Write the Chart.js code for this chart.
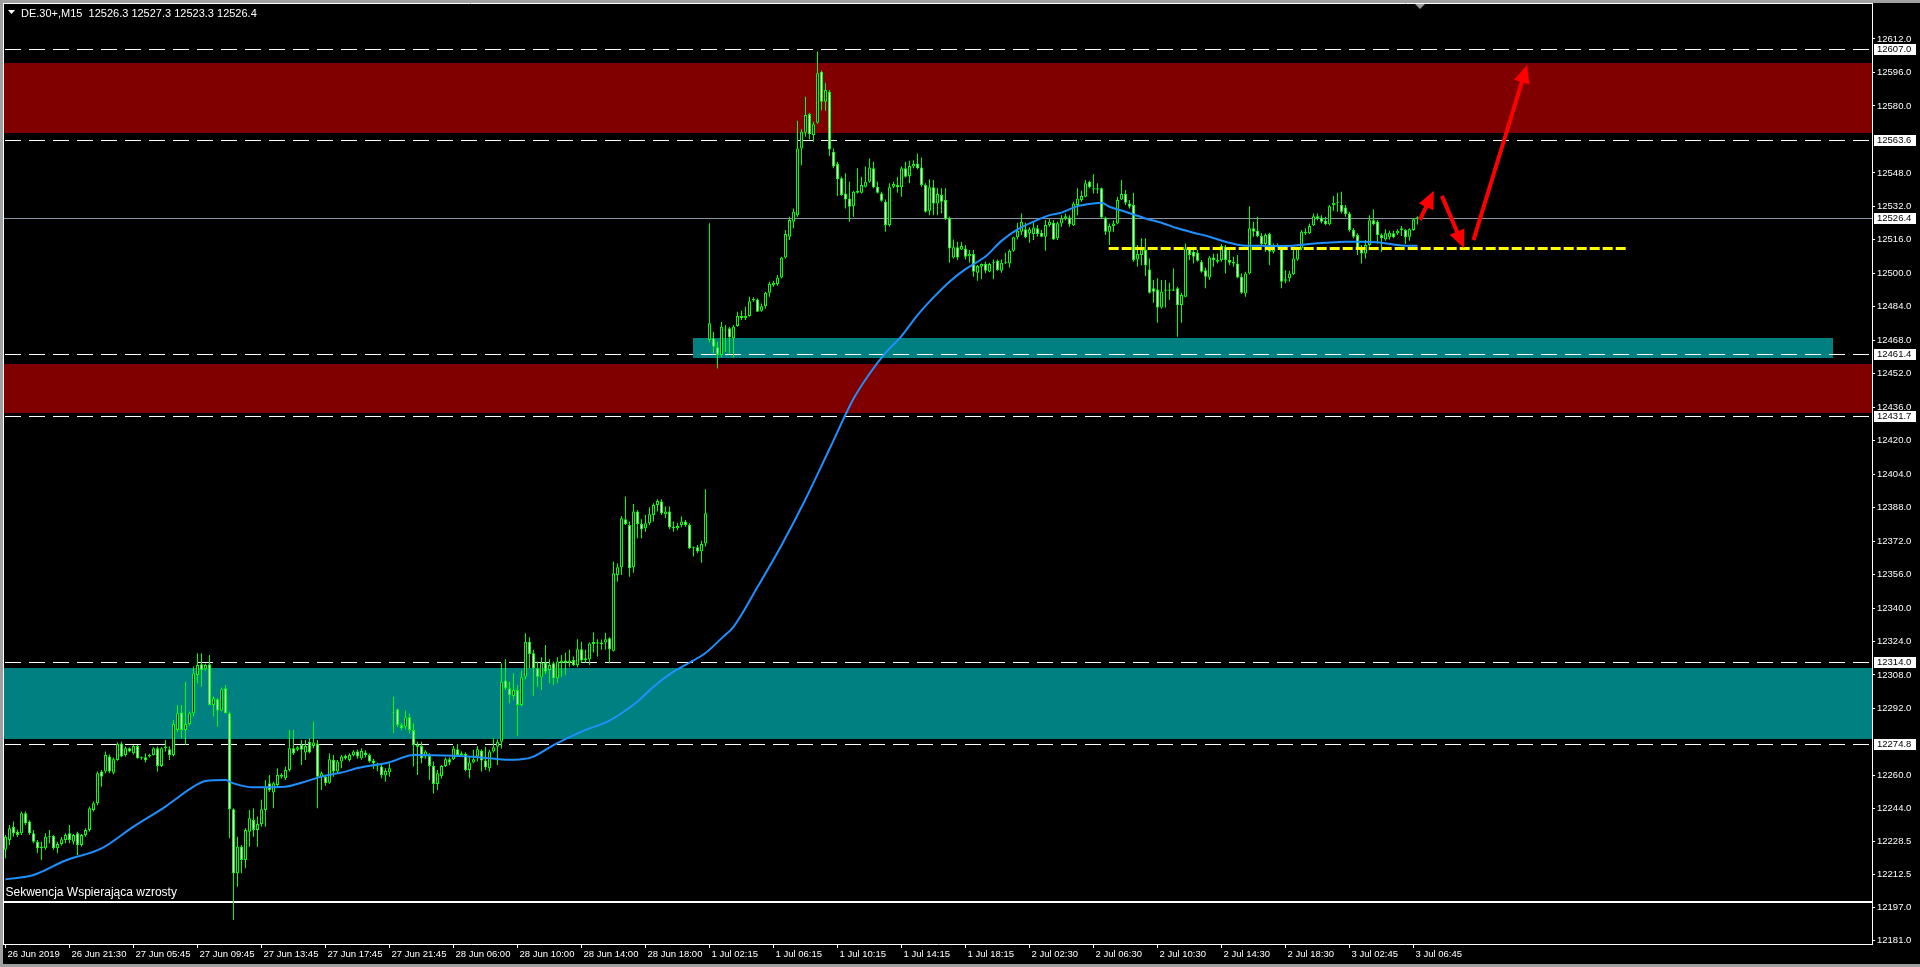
<!DOCTYPE html>
<html>
<head>
<meta charset="utf-8">
<title>DE.30+ M15</title>
<script src="https://cdn.jsdelivr.net/npm/chart.js@4.4.1/dist/chart.umd.min.js"></script>
<style>
html,body{margin:0;padding:0;background:#000;overflow:hidden}
#wrap{width:1920px;height:967px;position:relative}
canvas{display:block}
</style>
</head>
<body>
<div id="wrap"><canvas id="c" width="1920" height="967"></canvas></div>
<script>
// ---------------- data ----------------
const symbolTitle = "DE.30+,M15";
const lastQuote = [12526.3, 12527.3, 12523.3, 12526.4];

const open = [
12224.4,12229.1,12235.5,12233.1,12232.3,12241.9,12237.9,12232.3,12228.3,12225.2,
12225.2,12230.7,12231.0,12225.2,12227.2,12229.1,12232.3,12228.3,12232.3,12226.7,
12231.5,12233.9,12243.5,12246.7,12261.8,12261.8,12269.0,12261.3,12267.4,12275.3,
12269.8,12273.0,12270.6,12274.1,12268.2,12268.7,12269.0,12269.8,12273.0,12264.5,
12273.0,12272.5,12269.8,12281.7,12290.0,12281.7,12284.6,12289.7,12308.0,12313.1,
12310.7,12313.1,12293.7,12296.4,12291.0,12301.6,12289.7,12243.8,12213.2,12225.9,
12219.6,12233.1,12238.7,12233.9,12236.8,12243.5,12256.2,12251.8,12255.4,12260.2,
12258.6,12262.6,12273.0,12272.2,12274.5,12270.9,12276.1,12274.1,12275.3,12259.4,
12259.4,12256.5,12267.4,12261.8,12266.6,12269.3,12267.4,12269.8,12271.4,12268.2,
12270.9,12269.8,12267.1,12264.5,12264.2,12259.9,12261.5,12289.7,12291.6,12284.1,
12283.3,12287.8,12281.7,12274.5,12274.1,12269.0,12269.3,12264.5,12255.9,12259.7,
12264.5,12267.7,12267.7,12272.5,12269.8,12270.2,12262.6,12266.1,12269.0,12271.8,
12267.1,12263.4,12271.4,12273.7,12276.1,12305.3,12301.6,12298.0,12300.8,12293.7,
12307.2,12323.9,12318.4,12311.2,12306.9,12313.9,12310.4,12313.6,12306.4,12313.9,
12314.9,12313.9,12315.2,12312.8,12320.3,12315.2,12315.5,12323.8,12323.1,12323.5,
12323.5,12325.5,12319.6,12355.8,12359.5,12382.4,12379.7,12359.5,12386.1,12380.2,
12378.1,12380.5,12384.5,12389.3,12390.9,12384.8,12386.1,12378.9,12378.1,12379.7,
12381.3,12379.7,12368.6,12369.0,12367.0,12370.9,12468.1,12468.9,12464.6,12460.9,
12472.9,12473.7,12468.9,12474.8,12479.6,12478.5,12479.6,12487.2,12487.5,12482.1,
12484.3,12490.7,12494.4,12494.9,12498.0,12507.6,12517.5,12524.7,12527.8,12559.7,
12567.2,12576.1,12566.1,12572.0,12596.4,12582.0,12586.8,12558.1,12552.2,12545.4,
12538.2,12535.8,12532.1,12538.5,12538.5,12541.4,12543.8,12550.2,12541.4,12538.2,
12534.2,12523.1,12541.4,12542.2,12541.1,12550.2,12546.5,12551.0,12552.5,12550.6,
12542.2,12529.9,12541.1,12533.4,12537.4,12535.0,12526.3,12507.6,12512.4,12511.4,
12511.9,12508.2,12509.2,12500.3,12503.1,12504.4,12500.8,12505.1,12506.0,12501.2,
12505.1,12504.7,12510.8,12517.2,12519.9,12521.0,12519.1,12518.8,12521.5,12519.4,
12517.5,12523.1,12524.2,12516.7,12523.8,12526.2,12526.7,12523.0,12532.6,12535.0,
12536.6,12543.8,12540.6,12540.1,12540.6,12526.7,12519.9,12522.6,12523.8,12535.3,
12537.9,12533.4,12532.6,12506.6,12508.7,12511.1,12501.8,12492.8,12492.3,12483.7,
12491.7,12492.3,12491.7,12492.8,12484.8,12488.8,12511.9,12510.3,12509.8,12505.5,
12501.5,12498.0,12507.6,12506.3,12506.3,12512.7,12506.3,12505.5,12504.7,12498.4,
12490.4,12499.9,12521.5,12520.3,12517.8,12514.0,12518.8,12510.3,12512.7,12512.4,
12496.4,12497.6,12499.6,12506.6,12511.9,12519.9,12519.1,12523.0,12527.3,12526.7,
12525.1,12523.5,12532.6,12534.2,12532.6,12531.5,12528.6,12520.7,12518.3,12511.9,
12509.5,12513.5,12525.4,12524.6,12518.3,12516.2,12517.2,12519.1,12519.1,12520.7,
12520.7,12517.5,12520.7,12526.3
];
const high = [
12231.5,12236.3,12237.9,12234.0,12242.7,12242.7,12238.5,12233.9,12229.1,12228.3,
12232.3,12233.9,12231.5,12228.3,12230.5,12232.3,12236.3,12232.0,12233.1,12232.0,
12234.7,12245.1,12247.5,12261.8,12262.6,12271.4,12270.0,12268.5,12275.7,12276.1,
12273.8,12273.5,12274.5,12274.5,12269.0,12270.6,12270.3,12273.5,12273.8,12273.5,
12276.9,12273.8,12286.5,12293.7,12293.7,12304.8,12290.5,12312.0,12318.4,12318.4,
12313.5,12317.6,12297.7,12296.9,12302.0,12303.2,12290.5,12244.3,12230.7,12226.7,
12234.7,12243.5,12244.3,12240.3,12248.3,12257.8,12260.2,12257.0,12263.4,12261.0,
12264.2,12281.7,12281.7,12274.0,12276.9,12276.9,12277.7,12285.7,12276.9,12261.8,
12260.0,12270.6,12269.8,12267.4,12269.8,12270.0,12270.6,12272.0,12272.2,12273.0,
12272.0,12270.5,12268.0,12266.0,12265.0,12263.4,12265.8,12297.6,12292.0,12285.0,
12291.0,12289.5,12284.9,12276.1,12276.1,12272.0,12270.6,12266.6,12262.6,12265.0,
12268.5,12268.5,12274.1,12275.0,12271.5,12271.0,12269.0,12272.2,12274.1,12272.5,
12273.7,12272.2,12277.7,12277.3,12313.6,12315.5,12304.8,12308.8,12303.2,12310.1,
12327.9,12326.0,12320.0,12314.4,12316.5,12322.3,12315.5,12314.4,12316.5,12317.6,
12318.7,12320.0,12316.8,12325.1,12323.9,12320.0,12323.5,12328.4,12325.1,12325.0,
12328.2,12326.0,12362.2,12361.4,12384.0,12393.3,12381.3,12389.7,12386.9,12382.4,
12384.5,12388.2,12390.1,12392.0,12392.0,12388.5,12388.5,12381.3,12380.8,12383.7,
12382.1,12380.5,12369.4,12370.1,12372.2,12396.8,12523.9,12472.1,12467.3,12476.9,
12475.3,12474.5,12475.3,12481.6,12482.1,12484.0,12488.8,12488.5,12488.0,12485.6,
12491.2,12496.0,12496.5,12499.2,12507.9,12520.7,12527.0,12531.0,12572.9,12568.8,
12584.4,12576.8,12572.5,12606.0,12597.0,12590.8,12587.6,12559.7,12553.3,12546.2,
12547.8,12543.8,12539.5,12550.2,12546.2,12551.0,12554.9,12553.3,12543.8,12539.0,
12535.3,12543.0,12543.8,12546.2,12551.0,12553.3,12553.8,12554.1,12557.3,12555.4,
12543.0,12544.9,12544.6,12540.6,12540.6,12540.6,12527.0,12516.2,12515.1,12515.1,
12513.5,12511.1,12511.1,12504.0,12504.7,12505.5,12505.1,12506.6,12506.6,12506.6,
12509.8,12511.4,12517.5,12524.2,12528.6,12524.2,12522.0,12524.7,12523.1,12520.7,
12525.5,12525.8,12525.5,12524.7,12527.8,12528.6,12527.8,12534.2,12540.6,12539.5,
12544.6,12544.2,12547.4,12543.0,12541.0,12527.0,12523.8,12525.4,12536.6,12544.6,
12539.8,12535.0,12538.5,12513.5,12516.7,12516.7,12507.1,12496.8,12497.6,12496.8,
12496.8,12495.5,12502.3,12493.6,12490.7,12514.3,12512.7,12512.7,12511.1,12506.3,
12502.8,12508.2,12509.5,12509.5,12514.0,12513.5,12511.1,12507.9,12508.7,12499.9,
12500.7,12532.1,12524.6,12527.0,12519.1,12519.1,12519.4,12514.3,12514.3,12512.7,
12501.5,12501.2,12511.9,12512.7,12520.7,12521.5,12523.8,12528.6,12528.6,12527.8,
12527.0,12532.6,12536.9,12538.5,12539.0,12532.6,12529.4,12521.5,12519.1,12513.5,
12515.9,12527.8,12530.5,12525.4,12519.1,12521.0,12520.3,12520.3,12521.0,12522.6,
12521.0,12521.5,12526.2,12527.3
];
const low = [
12220.4,12226.7,12230.7,12230.5,12231.5,12236.3,12231.5,12227.5,12222.8,12219.6,
12224.4,12227.5,12224.4,12222.8,12226.5,12227.5,12227.5,12227.0,12222.0,12226.0,
12230.7,12233.1,12242.7,12245.9,12254.6,12261.0,12261.0,12260.5,12267.0,12268.7,
12269.0,12271.0,12270.0,12268.0,12267.5,12266.1,12268.5,12269.5,12261.8,12264.0,
12271.4,12267.4,12269.0,12280.9,12277.7,12274.5,12284.0,12288.1,12304.0,12302.4,
12310.0,12293.7,12288.1,12283.3,12290.5,12289.7,12229.9,12190.9,12206.8,12213.2,
12215.6,12225.9,12230.7,12225.9,12235.5,12235.5,12252.2,12244.3,12254.6,12258.5,
12257.8,12261.8,12269.8,12271.5,12265.0,12267.4,12270.6,12273.0,12244.3,12253.0,
12255.0,12256.0,12259.4,12261.0,12263.4,12267.5,12266.6,12269.0,12268.0,12267.5,
12268.5,12266.0,12263.0,12262.0,12258.6,12257.0,12259.4,12280.1,12283.0,12281.5,
12282.0,12280.0,12264.2,12260.2,12265.8,12268.0,12257.8,12251.4,12253.0,12258.5,
12264.0,12265.0,12267.4,12269.0,12269.0,12262.0,12258.6,12265.8,12266.6,12261.8,
12262.6,12261.8,12270.9,12265.0,12272.9,12300.8,12294.5,12296.1,12278.8,12292.9,
12305.9,12311.2,12298.0,12302.4,12300.8,12308.5,12304.0,12303.2,12304.0,12307.2,
12308.0,12311.7,12312.3,12311.7,12313.9,12313.9,12312.8,12318.7,12316.8,12320.0,
12320.0,12313.6,12319.2,12352.6,12355.8,12379.7,12355.0,12356.9,12373.3,12373.3,
12376.5,12379.7,12381.3,12386.1,12384.5,12382.9,12377.6,12376.5,12377.3,12378.6,
12378.9,12368.1,12364.6,12366.2,12361.7,12369.4,12467.0,12461.7,12454.5,12460.1,
12462.5,12461.7,12459.8,12474.5,12477.7,12477.7,12479.2,12486.4,12481.6,12481.6,
12483.2,12488.8,12493.6,12494.0,12497.5,12507.1,12515.9,12521.5,12527.0,12551.7,
12565.3,12564.0,12562.9,12571.5,12578.0,12577.7,12556.1,12550.2,12536.9,12537.0,
12531.0,12524.7,12527.0,12538.2,12538.2,12541.0,12543.3,12540.6,12538.2,12534.2,
12519.9,12522.3,12540.6,12538.5,12536.6,12545.8,12543.0,12550.2,12549.7,12541.4,
12529.0,12527.8,12527.8,12527.8,12528.6,12525.5,12505.1,12507.1,12506.3,12511.1,
12506.6,12505.1,12498.4,12496.5,12497.1,12500.0,12500.5,12497.1,12501.2,12500.3,
12504.4,12502.8,12510.3,12516.2,12518.3,12516.7,12514.6,12515.9,12517.5,12517.2,
12510.8,12522.3,12515.9,12515.9,12522.2,12525.4,12522.2,12522.6,12527.8,12534.2,
12536.3,12540.6,12538.2,12538.2,12526.2,12518.3,12513.5,12519.9,12523.5,12535.0,
12532.6,12531.0,12505.5,12503.1,12503.9,12498.6,12490.4,12485.9,12476.4,12483.2,
12483.7,12487.2,12491.5,12469.7,12476.4,12488.5,12506.3,12504.7,12505.5,12500.3,
12492.8,12496.8,12503.1,12504.7,12505.5,12499.9,12503.9,12503.1,12497.6,12490.1,
12488.8,12499.6,12517.5,12517.2,12513.5,12510.3,12503.9,12509.5,12512.3,12492.8,
12495.2,12496.0,12499.2,12506.0,12511.1,12518.3,12518.8,12522.6,12525.4,12523.8,
12523.0,12523.0,12529.9,12529.4,12528.6,12527.0,12519.9,12516.7,12508.7,12504.7,
12507.1,12512.7,12523.0,12514.3,12510.3,12515.6,12516.2,12516.7,12518.3,12517.8,
12514.0,12515.6,12520.3,12523.3
];
const close = [
12230.7,12234.7,12232.3,12231.5,12241.9,12237.1,12232.3,12228.3,12225.2,12225.9,
12230.7,12231.0,12225.2,12227.2,12229.5,12231.5,12229.1,12231.5,12226.7,12231.5,
12233.9,12244.3,12246.7,12261.0,12259.4,12269.8,12261.8,12267.7,12275.0,12269.0,
12273.0,12271.4,12274.1,12268.2,12268.7,12267.4,12269.8,12273.0,12264.5,12273.0,
12273.8,12269.8,12284.6,12289.7,12281.7,12284.6,12289.7,12308.8,12312.8,12310.4,
12312.8,12293.7,12296.9,12291.0,12301.2,12289.7,12243.8,12213.2,12225.9,12219.6,
12233.9,12239.5,12233.9,12236.8,12243.8,12254.6,12253.0,12256.2,12260.2,12259.4,
12262.6,12273.0,12270.6,12273.4,12272.2,12274.1,12270.9,12275.7,12259.4,12261.0,
12256.2,12267.7,12261.8,12266.6,12269.0,12268.2,12269.8,12271.4,12269.0,12271.7,
12269.8,12266.6,12265.8,12264.2,12260.2,12262.1,12263.4,12290.1,12284.1,12282.5,
12287.8,12281.7,12274.5,12273.7,12268.2,12271.4,12264.5,12255.9,12261.0,12264.5,
12267.7,12266.1,12272.9,12269.8,12270.6,12262.6,12266.1,12267.7,12272.5,12267.1,
12263.9,12271.4,12273.4,12276.1,12304.8,12301.6,12298.4,12300.8,12293.7,12306.9,
12323.9,12318.0,12311.2,12307.2,12313.9,12309.6,12312.8,12306.4,12314.4,12314.9,
12313.9,12314.9,12312.8,12320.3,12314.9,12316.0,12323.1,12322.8,12323.6,12322.8,
12325.1,12320.3,12356.6,12359.5,12382.9,12380.2,12359.0,12386.1,12380.2,12377.6,
12380.5,12384.8,12389.3,12391.2,12385.3,12386.1,12378.6,12378.1,12379.2,12381.3,
12379.7,12368.6,12369.0,12367.0,12370.6,12385.3,12476.1,12464.9,12460.9,12474.5,
12472.6,12469.4,12474.5,12479.6,12478.5,12479.6,12486.7,12487.5,12481.6,12484.3,
12490.7,12494.9,12495.5,12498.0,12507.6,12518.8,12525.5,12529.4,12559.7,12567.7,
12575.7,12566.6,12571.3,12595.6,12582.0,12587.6,12559.2,12551.0,12544.9,12537.4,
12535.3,12531.8,12539.0,12539.5,12542.2,12543.8,12550.6,12541.1,12538.5,12534.7,
12523.1,12541.1,12542.7,12541.1,12550.2,12546.2,12551.3,12552.2,12550.2,12542.2,
12529.4,12541.1,12533.4,12537.9,12534.2,12525.8,12511.9,12512.4,12507.6,12513.0,
12507.9,12509.2,12500.8,12503.5,12504.4,12501.2,12504.4,12505.5,12501.6,12505.1,
12505.5,12510.8,12517.2,12520.4,12524.7,12517.2,12521.0,12521.9,12518.8,12517.5,
12523.1,12524.7,12516.2,12523.9,12526.2,12527.3,12523.5,12533.4,12535.8,12536.9,
12543.0,12541.1,12540.1,12540.6,12526.7,12519.9,12522.6,12523.8,12535.0,12537.9,
12533.7,12531.8,12506.3,12509.2,12511.4,12503.9,12490.7,12491.2,12483.7,12491.2,
12492.3,12491.7,12492.3,12484.8,12489.6,12511.9,12508.7,12507.9,12506.0,12500.7,
12498.4,12507.6,12506.3,12505.5,12513.0,12506.3,12505.0,12504.7,12498.0,12490.7,
12499.9,12521.5,12519.9,12517.8,12514.0,12518.3,12510.3,12512.7,12513.5,12496.0,
12497.1,12499.9,12507.1,12511.9,12519.9,12519.1,12522.6,12527.3,12526.2,12524.6,
12523.5,12532.1,12533.7,12533.7,12529.4,12528.3,12520.7,12517.5,12511.1,12509.5,
12513.5,12525.4,12523.5,12518.3,12516.7,12519.1,12519.4,12517.2,12520.3,12521.5,
12517.2,12521.0,12525.8,12526.4
];

// moving average (blue), read at selected bars
const maBars = [0,7,15,24,32,40,47,50,55,57,62,70,74,79,85,88,96,102,112,119,
126,129,132,137,144,151,154,158,162,167,171,175,179,182,188,194,200,206,212,216,
220,224,228,232,236,240,245,249,253,257,261,264,268,272,274,276,280,285,289,293,
297,301,305,310,314,318,322,326,330,335,339,343,347,350,353];
const maValues = [12210.3,12212.4,12219.3,12225.1,12235.5,12245.1,12254.6,12257.3,12257.8,12256.2,
12254.3,12254.6,12256.5,12259.4,12261.8,12263.5,12266.3,12269.8,12269.4,12268.6,
12267.5,12267.7,12269.0,12274.5,12280.9,12286.2,12289.7,12295.3,12302.4,12309.6,
12313.9,12318.5,12325.5,12331.0,12350.0,12370.0,12392.0,12416.0,12440.0,12452.0,
12462.0,12470.0,12480.0,12488.5,12496.0,12502.0,12508.0,12515.5,12521.0,12524.7,
12527.8,12529.0,12532.1,12533.4,12533.7,12531.8,12529.4,12526.2,12524.2,12521.5,
12519.4,12517.5,12515.1,12513.2,12513.2,12513.0,12513.2,12514.0,12514.6,12515.1,
12515.1,12514.8,12513.8,12513.2,12513.2];

// time axis labels, one every 16 bars
const timeLabels = ["26 Jun 2019","26 Jun 21:30","27 Jun 05:45","27 Jun 09:45","27 Jun 13:45",
"27 Jun 17:45","27 Jun 21:45","28 Jun 06:00","28 Jun 10:00","28 Jun 14:00","28 Jun 18:00",
"1 Jul 02:15","1 Jul 06:15","1 Jul 10:15","1 Jul 14:15","1 Jul 18:15","2 Jul 02:30",
"2 Jul 06:30","2 Jul 10:30","2 Jul 14:30","2 Jul 18:30","3 Jul 02:45","3 Jul 06:45"];
const barsPerLabel = 16;

// price axis labels
const priceTicks = [12612.0,12596.0,12580.0,12548.0,12532.0,12516.0,12500.0,12484.0,12468.0,
12452.0,12436.0,12420.0,12404.0,12388.0,12372.0,12356.0,12340.0,12324.0,12308.0,12292.0,
12260.0,12244.0,12228.5,12212.5,12197.0,12181.0];

// annotation levels
const levelLines = [12607.0, 12563.6, 12461.4, 12431.7, 12314.0, 12274.8];
const bidPrice = 12526.4;
const redZones = [[12567.2, 12600.5], [12433.2, 12456.6]];
const tealZones = [[12277.4, 12311.5]];
const supportBox = [171.9, 456.9, 12459.3, 12468.9];   // fromBar, toBar, low, high
const trendLevel = [275.8, 405.1, 12511.9];             // fromBar, toBar, price
const baseLevel = 12199.7;
const baseLabel = "Sekwencja Wspierająca wzrosty";
const arrowsData = [
  [353.6, 12525.5, 357.1, 12539.5],
  [359.1, 12537.0, 364.65, 12512.0],
  [367.0, 12515.9, 380.4, 12599.6]
];
const priceRange = [12179.40, 12628.73];
const barRange = [-0.375, 466.625];

// ---------------- chart ----------------
const FONT = '"Liberation Sans", Arial, sans-serif';
Chart.defaults.font.family = FONT;
Chart.defaults.color = '#ffffff';

const idx = open.map((_, i) => i);
const wickData = idx.map(i => ({x: i, y: [Math.min(low[i], open[i], close[i]), Math.max(high[i], open[i], close[i])]}));
const bodyData = idx.map(i => ({x: i, y: [Math.min(open[i], close[i]), Math.max(open[i], close[i])]}));
const bodyFill = idx.map(i => close[i] >= open[i] ? '#000000' : '#ffffff');
const maData = maBars.map((b, k) => ({x: b, y: maValues[k]}));

function drawArrow(ctx, x1, y1, x2, y2) {
  const ang = Math.atan2(y2 - y1, x2 - x1), L = 18, W = 8;
  const bx = x2 - L * Math.cos(ang), by = y2 - L * Math.sin(ang);
  ctx.beginPath(); ctx.moveTo(x1, y1); ctx.lineTo(bx + Math.cos(ang) * 2, by + Math.sin(ang) * 2); ctx.stroke();
  ctx.beginPath();
  ctx.moveTo(x2, y2);
  ctx.lineTo(bx + W * Math.sin(ang), by - W * Math.cos(ang));
  ctx.lineTo(bx - W * Math.sin(ang), by + W * Math.cos(ang));
  ctx.closePath(); ctx.fill();
}

const mt4Plugin = {
  id: 'mt4',
  beforeDraw(chart) {
    const ctx = chart.ctx;
    ctx.save();
    ctx.fillStyle = '#000';
    ctx.fillRect(0, 0, chart.width, chart.height);
    ctx.restore();
  },
  beforeDatasetsDraw(chart) {
    const {ctx, chartArea: a, scales: {x: xs, y: ys}} = chart;
    ctx.save();
    ctx.beginPath(); ctx.rect(a.left, a.top, a.right - a.left, a.bottom - a.top); ctx.clip();
    const band = (p1, p2, x1, x2, col) => {
      const yTop = Math.round(ys.getPixelForValue(p2)), yBot = Math.round(ys.getPixelForValue(p1));
      ctx.fillStyle = col;
      ctx.fillRect(Math.round(x1), yTop, Math.round(x2) - Math.round(x1), yBot - yTop);
    };
    redZones.forEach(z => band(z[0], z[1], a.left, a.right, '#800000'));
    tealZones.forEach(z => band(z[0], z[1], a.left, a.right, '#008080'));
    band(supportBox[2], supportBox[3], xs.getPixelForValue(supportBox[0]), xs.getPixelForValue(supportBox[1]), '#008080');
    // dashed white levels
    ctx.strokeStyle = '#ffffff'; ctx.lineWidth = 1; ctx.setLineDash([16, 8]);
    levelLines.forEach(p => {
      const y = Math.round(ys.getPixelForValue(p)) + 0.5;
      ctx.beginPath(); ctx.moveTo(a.left + 1, y); ctx.lineTo(a.right, y); ctx.stroke();
    });
    ctx.setLineDash([]);
    // bid line
    ctx.strokeStyle = '#8593a3';
    let yb = Math.round(ys.getPixelForValue(bidPrice)) + 0.5;
    ctx.beginPath(); ctx.moveTo(a.left, yb); ctx.lineTo(a.right, yb); ctx.stroke();
    // base line (solid white)
    ctx.strokeStyle = '#ffffff'; ctx.lineWidth = 2;
    const y0 = Math.round(ys.getPixelForValue(baseLevel));
    ctx.beginPath(); ctx.moveTo(a.left, y0); ctx.lineTo(a.right, y0); ctx.stroke();
    ctx.restore();
  },
  afterDatasetsDraw(chart) {
    const {ctx, chartArea: a, scales: {x: xs, y: ys}} = chart;
    ctx.save();
    ctx.beginPath(); ctx.rect(a.left, a.top, a.right - a.left, a.bottom - a.top); ctx.clip();
    // yellow dashed trend level
    ctx.strokeStyle = '#ffff00'; ctx.lineWidth = 3; ctx.setLineDash([10, 3]);
    const yy = ys.getPixelForValue(trendLevel[2]);
    ctx.beginPath(); ctx.moveTo(xs.getPixelForValue(trendLevel[0]), yy); ctx.lineTo(xs.getPixelForValue(trendLevel[1]), yy); ctx.stroke();
    ctx.setLineDash([]);
    // red arrows
    ctx.strokeStyle = '#ff0000'; ctx.fillStyle = '#ff0000'; ctx.lineWidth = 4; ctx.lineCap = 'butt';
    arrowsData.forEach(r => drawArrow(ctx, xs.getPixelForValue(r[0]), ys.getPixelForValue(r[1]), xs.getPixelForValue(r[2]), ys.getPixelForValue(r[3])));
    // base label
    ctx.fillStyle = '#ffffff';
    ctx.font = '12px ' + FONT;
    ctx.textBaseline = 'alphabetic'; ctx.textAlign = 'left';
    ctx.fillText(baseLabel, xs.getPixelForValue(barRange[0]) + 1.5, ys.getPixelForValue(baseLevel) - 6);
    ctx.restore();
  },
  afterDraw(chart) {
    const {ctx, chartArea: a, scales: {y: ys}} = chart;
    ctx.save();
    // window frame
    ctx.fillStyle = '#a0a0a0';
    ctx.fillRect(0, 0, chart.width, 3);
    ctx.fillRect(0, 0, 3, chart.height);
    ctx.fillRect(0, chart.height - 3, chart.width, 3);
    // plot frame (top/left)
    ctx.strokeStyle = '#ffffff'; ctx.lineWidth = 1;
    ctx.beginPath(); ctx.moveTo(3, 3.5); ctx.lineTo(a.right + 1, 3.5); ctx.stroke();
    ctx.beginPath(); ctx.moveTo(3.5, 3); ctx.lineTo(3.5, a.bottom + 1); ctx.stroke();
    // shift marker
    ctx.fillStyle = '#9a9a9a';
    ctx.beginPath(); ctx.moveTo(1415, 4); ctx.lineTo(1425, 4); ctx.lineTo(1420, 9); ctx.closePath(); ctx.fill();
    // header
    ctx.fillStyle = '#ffffff';
    ctx.beginPath(); ctx.moveTo(8, 10); ctx.lineTo(15, 10); ctx.lineTo(11.5, 14); ctx.closePath(); ctx.fill();
    ctx.font = '11px ' + FONT; ctx.textAlign = 'left'; ctx.textBaseline = 'alphabetic';
    ctx.fillText(symbolTitle + '  ' + lastQuote.map(v => v.toFixed(1)).join(' '), 21, 16.5);
    // price markers on the axis
    ctx.font = '9.5px ' + FONT; ctx.textBaseline = 'middle';
    levelLines.concat([bidPrice]).forEach(p => {
      const y = Math.round(ys.getPixelForValue(p));
      ctx.fillStyle = '#ffffff'; ctx.fillRect(a.right + 2, y - 5, 42, 11);
      ctx.fillStyle = '#000000'; ctx.fillText(p.toFixed(1), a.right + 5, y + 0.5);
    });
    ctx.restore();
  }
};

new Chart(document.getElementById('c'), {
  type: 'bar',
  data: {
    datasets: [
      {type: 'line', label: 'MA', data: maData, borderColor: '#1e90ff', borderWidth: 2,
       pointRadius: 0, fill: false, cubicInterpolationMode: 'monotone', order: 0},
      {type: 'bar', label: 'body', data: bodyData, backgroundColor: bodyFill, borderColor: '#00ff00',
       borderWidth: 1, borderSkipped: false, barThickness: 3, maxBarThickness: 3, minBarLength: 1,
       grouped: false, inflateAmount: 0, order: 1},
      {type: 'bar', label: 'wick', data: wickData, backgroundColor: '#00ff00', borderWidth: 0,
       barThickness: 1, maxBarThickness: 1, grouped: false, inflateAmount: 0, order: 2}
    ]
  },
  options: {
    responsive: false, animation: false, devicePixelRatio: 1, events: [],
    layout: {padding: {left: 4, top: 4, right: 0, bottom: 0}},
    plugins: {legend: {display: false}, tooltip: {enabled: false}, title: {display: false}},
    scales: {
      x: {
        type: 'linear', min: barRange[0], max: barRange[1], offset: false,
        afterBuildTicks: s => { s.ticks = timeLabels.map((_, k) => ({value: k * barsPerLabel})); },
        afterFit: s => { s.height = 23; s.paddingLeft = 0; s.paddingRight = 0; },
        ticks: {autoSkip: false, maxRotation: 0, minRotation: 0, align: 'start', labelOffset: 2, padding: 1,
                color: '#ffffff', font: {size: 9.5},
                callback: v => timeLabels[Math.round(v / barsPerLabel)]},
        grid: {display: true, drawOnChartArea: false, drawTicks: true, tickLength: 4, color: '#ffffff', offset: false},
        border: {display: true, color: '#ffffff', width: 1}
      },
      y: {
        type: 'linear', position: 'right', min: priceRange[0], max: priceRange[1],
        afterBuildTicks: s => { s.ticks = priceTicks.map(v => ({value: v})); },
        afterFit: s => { s.width = 48; s.paddingTop = 0; s.paddingBottom = 0; },
        ticks: {color: '#ffffff', font: {size: 9.5}, padding: 2, callback: v => Number(v).toFixed(1)},
        grid: {display: true, drawOnChartArea: false, drawTicks: true, tickLength: 3, color: '#ffffff'},
        border: {display: true, color: '#ffffff', width: 1}
      }
    }
  },
  plugins: [mt4Plugin]
});
</script>
</body>
</html>
